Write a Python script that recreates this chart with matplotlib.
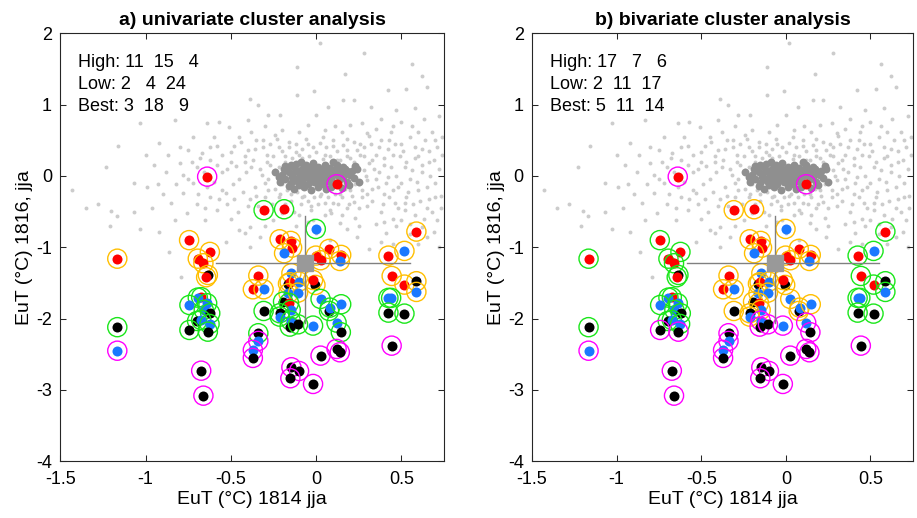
import matplotlib
matplotlib.use("Agg")
import matplotlib.pyplot as plt

plt.rcParams['font.family'] = ['Liberation Sans', 'DejaVu Sans']

# background cloud (all members)
cloud_pts = [
    (0.02, 1.86), (0.28, 1.72), (0.56, 1.57), (-0.11, 1.53), (0.17, 1.43), (0.62, 1.40),
    (-0.39, 1.08), (-0.34, 0.99), (-0.28, 0.85), (-0.21, 0.86), (-0.11, 1.14), (-0.01, 1.19),
    (0.16, 1.06), (0.22, 1.07), (0.32, 0.97), (0.42, 1.21), (0.53, 1.22), (0.65, 1.25),
    (0.72, 0.84), (0.07, 0.96), (-0.05, 0.72), (0.11, 0.70), (0.27, 0.74), (0.38, 0.80),
    (0.47, 0.92), (0.58, 0.95), (0.68, 0.62), (-1.03, 0.74), (-1.16, 0.42), (-1.23, 0.12),
    (-1.43, -0.20), (-1.35, -0.45), (-1.28, -0.40), (-1.20, -0.49), (-1.21, -0.70),
    (-1.17, -0.56), (-1.07, -0.51), (-1.03, -0.74), (-1.07, -0.10), (-0.99, -0.15),
    (-0.93, -0.11), (-0.86, -1.06), (-0.79, -1.42), (-0.92, -0.78), (-0.83, -0.62),
    (-0.92, 0.46), (-0.83, 0.79), (-0.72, 0.54), (-0.64, 0.74), (-0.57, 0.76), (-0.51, 0.69),
    (-0.45, 0.55), (-0.38, 0.62), (-0.31, 0.50), (-0.24, 0.58), (-0.16, 0.48), (-0.87, 0.30),
    (-0.80, 0.18), (-0.75, 0.36), (-0.68, 0.25), (-0.62, 0.40), (-0.55, 0.30), (-0.48, 0.42),
    (-0.42, 0.28), (-0.36, 0.38), (-0.29, 0.30), (-0.22, 0.40), (-0.12, 0.34), (-0.05, 0.45),
    (0.04, 0.55), (0.10, 0.42), (0.18, 0.52), (0.24, 0.36), (0.31, 0.56), (0.37, 0.40),
    (0.44, 0.62), (0.50, 0.45), (0.56, 0.70), (0.62, 0.38), (0.70, 0.50), (0.74, 0.30),
    (0.66, 0.20), (0.58, 0.25), (0.52, 0.12), (0.45, 0.30), (0.40, 0.15), (0.33, 0.22),
    (0.28, 0.08), (0.35, -0.05), (0.42, -0.02), (0.48, -0.15), (0.55, -0.05), (0.62, 0.05),
    (0.70, -0.10), (0.73, -0.28), (0.66, -0.32), (0.60, -0.20), (0.53, -0.30), (0.46, -0.38),
    (0.40, -0.25), (0.33, -0.18), (0.27, -0.30), (0.30, -0.42), (0.38, -0.50), (0.45, -0.60),
    (0.52, -0.48), (0.58, -0.55), (0.65, -0.45), (0.71, -0.62), (0.69, -0.78), (0.62, -0.72),
    (0.55, -0.82), (0.47, -0.70), (0.41, -0.80), (0.35, -0.68), (0.31, -1.03), (0.38, -0.92),
    (0.24, -0.85), (0.14, -0.66), (0.23, -0.59), (0.18, -0.45), (0.10, -0.38), (0.05, -0.55),
    (-0.03, -0.42), (-0.10, -0.55), (-0.18, -0.40), (-0.25, -0.62), (-0.32, -0.50),
    (-0.39, -0.71), (-0.42, -0.80), (-0.33, -0.85), (-0.39, -0.99), (-0.45, -0.76),
    (-0.53, -0.92), (-0.50, -0.60), (-0.58, -0.48), (-0.65, -0.62), (-0.70, -0.40),
    (-0.76, -0.52), (-0.62, -0.30), (-0.55, -0.20), (-0.48, -0.32), (-0.40, -0.42),
    (-0.35, -0.28), (-0.28, -0.20), (-0.22, -0.30), (-0.15, -0.25), (-0.08, -0.30),
    (-0.72, -0.10), (-0.78, -0.24), (-0.85, -0.38), (-0.53, -0.24), (-0.66, 0.05),
    (-0.60, -0.08), (-0.52, 0.10), (-0.45, -0.05), (-0.38, 0.12), (-0.32, 0.02), (-0.27, 0.15),
    (-0.30, -0.10), (-0.42, 0.20), (-0.50, 0.20), (-0.58, 0.15), (-0.70, 0.12), (-0.78, 0.02),
    (-0.88, 0.05), (-0.95, 0.15), (-1.00, 0.30), (-0.90, -0.25), (-0.96, -0.45), (0.22, 0.20),
    (0.28, 0.28), (0.18, 0.28), (0.12, 0.22), (0.25, -0.12), (0.30, -0.06), (0.20, -0.20),
    (0.14, -0.25), (0.06, -0.20), (0.02, -0.28), (0.22, -0.36), (0.15, -0.55), (0.08, -0.48),
    (-0.02, -0.62), (-0.12, -0.70), (-0.20, -0.52), (0.00, -0.80), (0.08, -0.90), (0.18, -0.75),
    (0.45, -0.95), (0.60, -0.95), (0.72, -1.00), (-0.18, 0.20), (-0.24, 0.08), (-0.20, -0.12),
    (0.26, 0.45), (0.05, 0.30), (-0.08, 0.25), (0.15, 0.62), (-0.10, 0.62), (0.35, 0.66),
    (-0.40, 0.78), (0.00, 0.86), (0.43, 0.50), (0.63, 0.80), (0.50, 0.75),
    (-0.58, 0.42), (-0.55, 0.05), (-0.52, -0.40), (-0.50, 0.33), (-0.49, -0.12), (-0.47, 0.14),
    (-0.46, -0.50), (-0.44, 0.47), (-0.43, -0.22), (-0.41, 0.05), (-0.40, 0.36), (-0.39, -0.33),
    (-0.37, 0.22), (-0.36, -0.15), (-0.35, 0.50), (-0.34, -0.42), (-0.33, 0.10), (-0.31, 0.40),
    (-0.30, -0.30), (-0.29, 0.20), (-0.28, -0.05), (-0.27, 0.45), (-0.26, -0.40), (-0.25, 0.28),
    (-0.24, -0.18), (-0.23, 0.52), (-0.22, 0.12), (-0.21, -0.25), (-0.20, 0.35), (-0.19, -0.45),
    (-0.18, 0.28), (-0.17, -0.20), (-0.16, 0.40), (-0.15, -0.35), (-0.14, 0.25), (-0.13, -0.50),
    (-0.12, 0.45), (-0.11, -0.22), (-0.10, 0.30), (-0.09, -0.40), (-0.08, 0.38), (-0.07, -0.28),
    (-0.06, 0.52), (-0.05, -0.35), (-0.04, 0.28), (-0.03, -0.48), (-0.02, 0.40), (-0.01, -0.30),
    (0.00, 0.33), (0.01, -0.40), (0.02, 0.46), (0.03, -0.25), (0.04, 0.24), (0.05, -0.38),
    (0.06, 0.40), (0.07, -0.30), (0.08, 0.28), (0.09, -0.52), (0.10, 0.50), (0.11, -0.25),
    (0.12, 0.35), (0.13, -0.40), (0.14, 0.22), (0.15, -0.30), (0.16, 0.44), (0.17, -0.18),
    (0.18, 0.36), (0.19, -0.40), (0.20, 0.25), (0.21, -0.28), (0.22, 0.48), (0.23, -0.12),
    (0.24, 0.15), (0.25, -0.45), (0.26, 0.30), (0.27, -0.20), (0.28, 0.40), (0.29, 0.00),
    (0.30, -0.25), (0.31, 0.18), (0.32, 0.45), (0.33, -0.35), (0.34, 0.10), (0.35, 0.30),
    (0.36, -0.15), (0.37, 0.05), (0.38, 0.50), (0.39, -0.40), (0.40, 0.25), (0.41, -0.10),
    (0.42, 0.38), (0.43, -0.30), (0.44, 0.12), (0.45, -0.20), (0.46, 0.45), (0.47, 0.00),
    (0.48, -0.45), (0.49, 0.28), (0.50, -0.10), (0.51, 0.35), (0.52, -0.38), (0.53, 0.20),
    (0.54, -0.22), (0.55, 0.55), (0.56, 0.08), (0.57, -0.40), (0.58, 0.40), (0.59, -0.08),
    (0.60, 0.28), (0.61, -0.35), (0.62, 0.15), (0.63, -0.60), (0.64, 0.50), (0.65, -0.15),
    (0.66, 0.35), (0.67, 0.00), (0.68, -0.50), (0.69, 0.22), (0.70, -0.30), (0.71, 0.40),
    (0.72, 0.10), (0.73, -0.45), (0.74, 0.55), (-0.62, 0.22), (-0.64, -0.15), (-0.67, 0.32),
    (-0.69, -0.25), (-0.73, 0.20), (-0.75, -0.05), (-0.80, 0.40), (-0.82, -0.12), (-0.60, 0.55),
    (-0.57, -0.32), (-0.65, -0.45), (0.30, 0.60), (0.05, 0.65), (-0.20, 0.65), (0.45, 0.70),
    (0.20, 0.72), (-0.30, 0.70), (0.60, 0.62), (-0.05, -0.65), (0.25, -0.70), (0.50, -0.62),
    (-0.30, -0.70), (0.40, -0.65), (0.65, -0.85), (0.55, -0.68),
]

# dense dark core around the mean
core_pts = [
    (-0.20, 0.02), (-0.18, -0.05), (-0.17, 0.08), (-0.15, -0.10), (-0.14, 0.03), (-0.13, 0.12),
    (-0.12, -0.04), (-0.11, 0.07), (-0.10, -0.13), (-0.09, 0.00), (-0.08, 0.10), (-0.08, -0.07),
    (-0.07, 0.04), (-0.06, -0.02), (-0.06, 0.15), (-0.05, -0.11), (-0.04, 0.06), (-0.03, -0.05),
    (-0.03, 0.11), (-0.02, 0.01), (-0.01, -0.09), (0.00, 0.05), (0.00, -0.02), (0.01, 0.13),
    (0.02, -0.06), (0.03, 0.02), (0.03, 0.09), (0.04, -0.12), (0.05, -0.01), (0.06, 0.06),
    (0.07, -0.07), (0.08, 0.11), (0.08, 0.00), (0.09, -0.04), (0.10, 0.05), (0.11, -0.10),
    (0.12, 0.02), (0.13, 0.09), (0.14, -0.05), (0.15, 0.04), (0.16, -0.01), (0.17, 0.10),
    (0.18, -0.08), (0.19, 0.03), (0.21, 0.07), (0.22, -0.03), (-0.22, -0.02), (-0.19, 0.10),
    (-0.16, -0.14), (-0.12, 0.17), (-0.02, 0.18), (0.05, 0.16), (0.12, 0.15), (-0.07, -0.16),
    (0.01, -0.15), (0.09, -0.15), (0.16, 0.13), (-0.04, 0.00), (0.01, 0.03), (0.06, -0.03),
    (-0.10, 0.04), (-0.14, -0.02), (0.11, 0.08), (0.04, 0.08), (-0.05, 0.08), (-0.01, -0.04),
    (0.08, 0.04), (0.14, 0.01), (-0.09, -0.09), (0.02, -0.10), (-0.16, 0.05), (0.20, 0.01),
    (0.18, 0.07), (-0.11, -0.07), (0.24, 0.10), (-0.24, 0.05), (-0.03, -0.20), (0.10, 0.19),
    (-0.15, 0.16), (0.25, -0.08), (-0.21, -0.09), (-0.13, -0.18), (0.19, -0.13), (0.23, 0.14),
    (-0.18, 0.14), (0.06, -0.18), (-0.09, 0.19), (0.15, -0.17),
]

# selected members: x, y, fill colour, ring in panel a, ring in panel b
sel_x = [-0.639, -0.745, -1.166, -0.623, -0.694, -0.661, -0.635, -0.645, -0.674, -0.694,
         -0.743, -0.639, -0.659, -0.621, -0.698, -0.674, -0.625, -0.743, -0.635, -1.166,
         -1.166, -0.674, -0.661, 0.120, -0.308, -0.188, -0.002, -0.214, -0.149, -0.141,
         -0.188, 0.076, -0.002, 0.026, 0.147, 0.139, 0.424, 0.518, 0.588, 0.443,
         0.518, 0.588, 0.588, 0.424, 0.440, 0.424, 0.518, 0.443, -0.339, -0.371,
         -0.308, -0.145, -0.165, -0.155, -0.100, -0.004, -0.018, -0.162, -0.106, -0.194,
         -0.159, -0.149, -0.308, -0.214, -0.214, -0.149, -0.155, -0.106, -0.018, 0.026,
         0.076, 0.081, 0.147, 0.120, 0.145, -0.339, -0.339, -0.371, -0.371, 0.026,
         0.120, 0.139, -0.145, -0.100, -0.151, -0.018]
sel_y = [-0.010, -0.900, -1.160, -1.065, -1.160, -1.224, -1.388, -1.420, -1.700, -1.706,
         -1.809, -1.785, -1.879, -1.925, -2.033, -2.019, -2.075, -2.159, -2.183, -2.120,
         -2.450, -2.730, -3.080, -0.117, -0.480, -0.467, -0.743, -0.888, -0.911, -1.005,
         -1.084, -1.023, -1.117, -1.182, -1.107, -1.192, -1.117, -1.051, -0.780, -1.402,
         -1.523, -1.476, -1.626, -1.710, -1.710, -1.916, -1.930, -2.379, -1.397, -1.589,
         -1.589, -1.364, -1.510, -1.490, -1.480, -1.528, -1.458, -1.645, -1.636, -1.762,
         -1.780, -1.879, -1.893, -1.925, -1.972, -2.028, -2.112, -2.080, -2.098, -1.724,
         -1.893, -1.846, -1.799, -2.056, -2.191, -2.205, -2.313, -2.439, -2.551, -2.519,
         -2.425, -2.472, -2.682, -2.734, -2.836, -2.916]
# one letter per member, in groups of ten
sel_fill = ("rrrrrrkrrb" "bbbkkbbkkk" "bkkrrrbrrr" "brrrrbrbrr" "rkbbbkkkrr"
            "bbkrbkrbbk" "rbkkbbkkbb" "kbbbkkbbkk" "kkkkkk")
ring_a = ("mooooooogg" "gggggggggg" "mmmmgggooo" "oooooooooo" "oooggggmoo"
          "ooooooooog" "gggggggggg" "ggggggmmmm" "mmmmmm")
ring_b = ("mggggggggg" "gggggggmmg" "mmmmoooooo" "oooooogggg" "gggggggmoo"
          "oooooooooo" "ooooommmmo" "ooommmmmmm" "mmmmmm")

titles = ["a) univariate cluster analysis", "b) bivariate cluster analysis"]
stats_a = ["High: 11  15   4", "Low: 2   4  24", "Best: 3  18   9"]
stats_b = ["High: 17   7   6", "Low: 2  11  17", "Best: 5  11  14"]

# mean of selection and its spread
mean_x, mean_y = -0.066, -1.215
hline_x = [-0.585, 0.55]
vline_y = [-0.56, -2.06]

fill_cols = {"r": (1.0, 0.0, 0.0), "b": (0.1, 0.47, 1.0), "k": (0.0, 0.0, 0.0)}
ring_cols = {"o": (1.0, 0.75, 0.0), "g": (0.1, 0.9, 0.1), "m": (1.0, 0.0, 1.0)}

fig = plt.figure(figsize=(9.17, 5.18), dpi=100)
axes = [fig.add_axes([0.0658, 0.1095, 0.4184, 0.8263]),
        fig.add_axes([0.5802, 0.1095, 0.4152, 0.8263])]

cx = [p[0] for p in cloud_pts]
cy = [p[1] for p in cloud_pts]
kx = [p[0] for p in core_pts]
ky = [p[1] for p in core_pts]

for ax, title, stats, rings in zip(axes, titles, [stats_a, stats_b], [ring_a, ring_b]):
    ax.scatter(cx, cy, s=8, color=(0.8, 0.8, 0.8), linewidths=0, zorder=1)
    ax.scatter(kx, ky, s=32, color=(0.56, 0.56, 0.56), linewidths=0, zorder=2)

    for i in range(len(sel_x)):
        ax.scatter(sel_x[i], sel_y[i], s=190, facecolors='none',
                   edgecolors=[ring_cols[rings[i]]], linewidths=1.0, zorder=3 + i * 0.01)
        ax.scatter(sel_x[i], sel_y[i], s=52, color=fill_cols[sel_fill[i]],
                   linewidths=0, zorder=3.005 + i * 0.01)

    ax.plot(hline_x, [mean_y, mean_y], color=(0.5, 0.5, 0.5), lw=1, zorder=5)
    ax.plot([mean_x, mean_x], vline_y, color=(0.5, 0.5, 0.5), lw=1, zorder=5)
    ax.plot(mean_x, mean_y, 's', color=(0.6, 0.6, 0.6), markersize=12, zorder=6)

    for k, line in enumerate(stats):
        ax.text(0.046, 0.931 - k * 0.051, line, transform=ax.transAxes,
                fontsize=13, va='center', ha='left')

    ax.set_xlim(-1.5, 0.75)
    ax.set_ylim(-4, 2)
    ax.set_xticks([-1.5, -1, -0.5, 0, 0.5])
    ax.set_xticklabels(["-1.5", "-1", "-0.5", "0", "0.5"])
    ax.set_yticks([-4, -3, -2, -1, 0, 1, 2])
    ax.set_yticklabels(["-4", "-3", "-2", "-1", "0", "1", "2"])
    ax.tick_params(direction='in', top=True, right=True, length=4, width=0.75,
                   labelsize=13, color=(0.15, 0.15, 0.15))
    ax.tick_params(axis='x', pad=7)
    ax.tick_params(axis='y', pad=6)
    for sp in ax.spines.values():
        sp.set_linewidth(0.8)
        sp.set_color((0.15, 0.15, 0.15))
    ax.set_title(title, fontsize=14, fontweight='bold', pad=6)
    ax.set_xlabel("EuT (°C) 1814 jja", fontsize=14, labelpad=2)
    ax.set_ylabel("EuT (°C) 1816, jja", fontsize=14, labelpad=2)

fig.savefig("out.png", dpi=100)
